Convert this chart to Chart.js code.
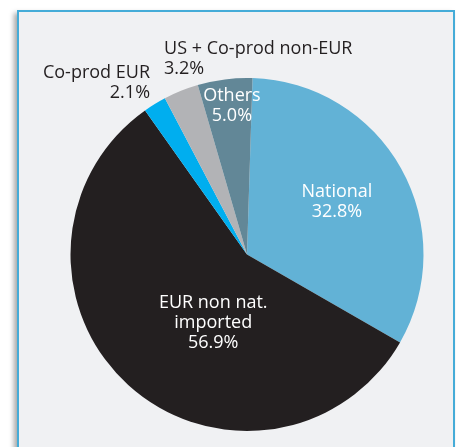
<!DOCTYPE html>
<html>
<head>
<meta charset="utf-8">
<script src="https://cdn.jsdelivr.net/npm/chart.js@4"></script>
<style>
  html, body { margin: 0; padding: 0; background: #fff; overflow: hidden; }
  #panel {
    position: absolute; left: 17px; top: 10px; width: 434px; height: 460px;
    background: #f0f1f3; border: 2px solid #45acd8;
    box-shadow: -3px 3px 5px rgba(0,0,0,0.35);
  }
  #wrap { position: absolute; left: 0; top: 0; width: 456px; height: 447px; }
</style>
</head>
<body>
<div id="panel"></div>
<div id="wrap"><canvas id="grafico" width="456" height="447"></canvas></div>
<script>
const categorias = ['National', 'EUR non nat. imported', 'Co-prod EUR', 'US + Co-prod non-EUR', 'Others'];
const linhasRotulo = [['National'], ['EUR non nat.', 'imported'], ['Co-prod EUR'], ['US + Co-prod non-EUR'], ['Others']];
const valores = [32.8, 56.9, 2.1, 3.2, 5.0];
const cores = ['#62b2d6', '#231f20', '#00aeef', '#b2b3b6', '#628797'];

// where each label sits: angle (deg, clockwise from top), fraction of radius, align, colour
const posicaoRotulo = [
  { ang: 59.7, frac: 0.59, align: 'center', cor: '#ffffff' },
  { ang: 206.4, frac: 0.43, align: 'center', cor: '#ffffff' },
  { ang: 330.5, frac: 1.116, align: 'right', cor: '#231f20' },
  { ang: 337, frac: 1.203, align: 'left', cor: '#231f20' },
  { ang: 354.2, frac: 0.845, align: 'center', cor: '#ffffff' }
];

const rotulos = {
  id: 'rotulos',
  afterDatasetsDraw(chart) {
    const ctx = chart.ctx;
    const arcos = chart.getDatasetMeta(0).data;
    ctx.save();
    ctx.font = '18px "Open Sans"';
    ctx.textBaseline = 'middle';
    arcos.forEach((arco, i) => {
      const p = posicaoRotulo[i];
      const a = p.ang * Math.PI / 180;
      const r = arco.outerRadius * p.frac;
      const x = arco.x + r * Math.sin(a);
      const y = arco.y - r * Math.cos(a);
      const linhas = linhasRotulo[i].concat([valores[i].toFixed(1) + '%']);
      const alt = 20;
      const y0 = y - (linhas.length - 1) * alt / 2;
      ctx.fillStyle = p.cor;
      ctx.textAlign = p.align;
      linhas.forEach((t, k) => ctx.fillText(t, x, y0 + k * alt));
    });
    ctx.restore();
  }
};

new Chart(document.getElementById('grafico').getContext('2d'), {
  type: 'pie',
  data: {
    labels: categorias,
    datasets: [{
      data: valores,
      backgroundColor: cores,
      borderWidth: 0
    }]
  },
  options: {
    responsive: false,
    animation: false,
    rotation: 1.8,
    layout: { padding: { left: 70.5, right: 32.5, top: 78, bottom: 16 } },
    plugins: {
      legend: { display: false },
      tooltip: { enabled: false }
    }
  },
  plugins: [rotulos]
});
</script>
</body>
</html>
